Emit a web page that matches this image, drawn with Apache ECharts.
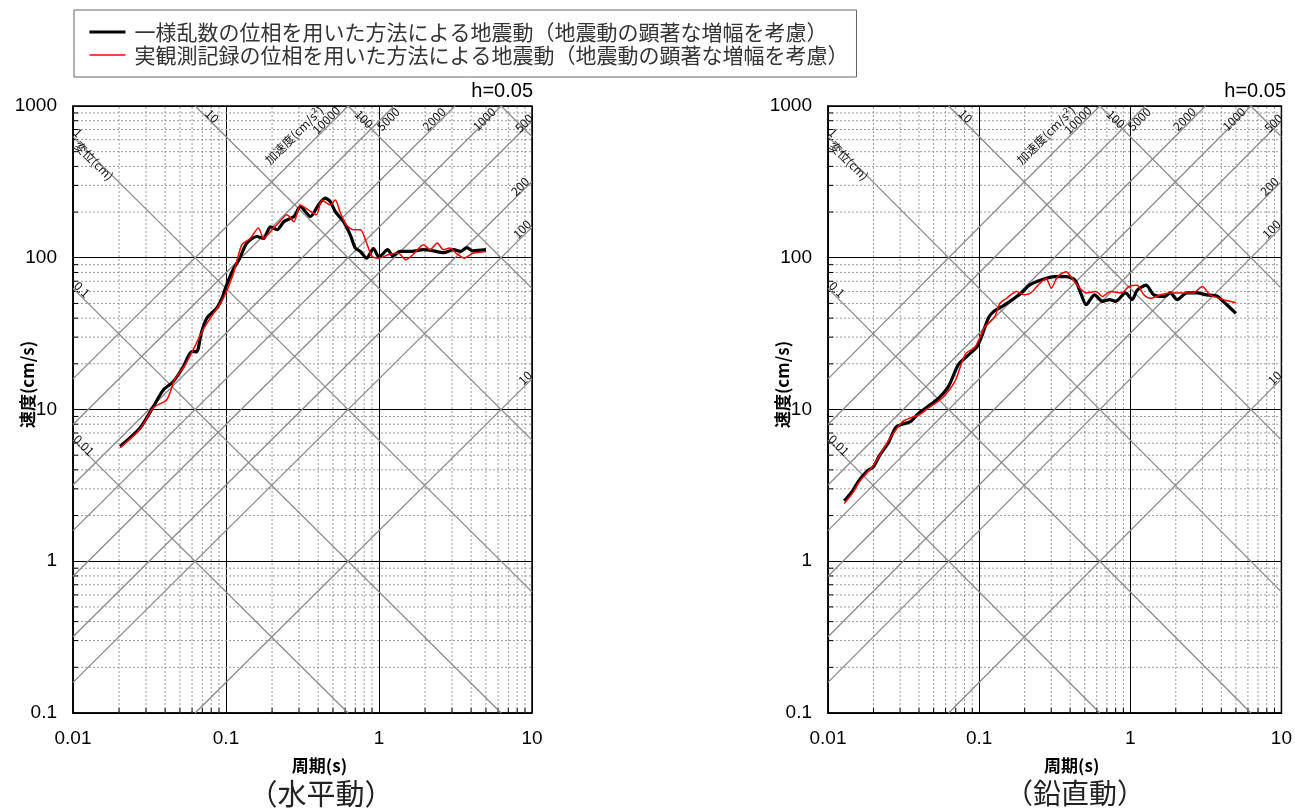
<!DOCTYPE html>
<html><head><meta charset="utf-8">
<script src="https://cdn.jsdelivr.net/npm/echarts@6/dist/echarts.min.js"></script>
<style>html,body{margin:0;padding:0;background:#fff}#c{width:1295px;height:812px}</style>
</head><body><div id="c"></div>
<script>
// ---------------- data ----------------
const seriesNames = [
  '一様乱数の位相を用いた方法による地震動（地震動の顕著な増幅を考慮）',
  '実観測記録の位相を用いた方法による地震動（地震動の顕著な増幅を考慮）'
];
const panelTitles = ['（水平動）', '（鉛直動）'];
const dampingText = 'h=0.05';
const xAxisName = '周期(s)';
const yAxisName = '速度(cm/s)';

// horizontal (left panel)
const hBlackT = [0.0203,0.0274,0.0336,0.039,0.0453,0.0527,0.0597,0.0643,0.069,0.075,0.087,0.094,0.1,0.111,0.123,0.1366,0.159,0.176,0.195,0.216,0.239,0.278,0.306,0.356,0.402,0.444,0.48,0.518,0.586,0.65,0.70,0.756,0.83,0.92,1.0,1.14,1.23,1.37,1.6,1.95,2.27,2.64,3.08,3.4,3.75,4.1,5.0];
const hBlackV = [5.7,7.55,10.5,13.5,15.3,19.2,24.1,24,32,40,46.6,54,64.6,83,99.4,124.8,138,134,160,153,173,187,217,187,223,247,235,201,173,141,116,110,99.3,115,101,113,103,110,110,113,111,108,113,110,116.5,111,113];
const hRedT = [0.0203,0.0274,0.0336,0.041,0.0465,0.053,0.061,0.071,0.083,0.096,0.111,0.127,0.144,0.163,0.176,0.2,0.22,0.25,0.278,0.306,0.346,0.39,0.424,0.48,0.518,0.56,0.61,0.68,0.756,0.83,0.9,1.0,1.16,1.34,1.5,1.67,1.95,2.16,2.4,2.64,2.9,3.2,3.6,4.1,5.0];
const hRedV = [5.6,7.4,10.3,11.6,16,19,24.7,33.7,43,54,77,122,134,157,134,153,169,192,173,223,207,192,240,223,240,197,165,153,153,125,102,99.4,105,107,97,105,122,113,125,113,116,107,99.4,107,110];

// vertical (right panel)
const vBlackT = [0.0128,0.0145,0.016,0.018,0.02,0.022,0.025,0.028,0.031,0.035,0.04,0.046,0.054,0.0627,0.073,0.085,0.0965,0.104,0.115,0.124,0.141,0.16,0.19,0.216,0.258,0.315,0.377,0.43,0.47,0.51,0.58,0.655,0.73,0.80,0.93,1.03,1.11,1.27,1.43,1.67,1.84,2.04,2.37,2.76,3.2,3.72,4.35,5.0];
const vBlackV = [2.5,2.9,3.4,3.9,4.2,5.0,6.0,7.6,8.0,8.3,9.5,10.5,11.9,14.2,19.8,22.9,25.8,30.4,40,44,47.6,51.6,58.6,66.3,71.4,75,75,71.4,58.6,49,57,51.6,53,51.6,58.6,53,61,66,57,55.6,58.6,53,58.6,58.6,57,56,49,43];
const vRedT = [0.0128,0.0145,0.016,0.018,0.02,0.022,0.025,0.028,0.031,0.035,0.04,0.046,0.057,0.0695,0.081,0.094,0.109,0.127,0.137,0.152,0.177,0.2,0.22,0.245,0.277,0.30,0.33,0.377,0.405,0.445,0.51,0.59,0.655,0.74,0.87,0.98,1.11,1.23,1.36,1.59,1.84,2.25,2.6,3.0,3.36,3.9,4.4,5.0];
const vRedV = [2.4,2.8,3.3,3.8,4.3,5.0,6.2,7.3,8.3,8.8,9.2,10.2,11.9,15.5,23.2,25.8,35,40.9,50,54.1,60,57,58.6,66,73,63,75,81,75,66,58.6,60,55.6,60,58.6,64.6,66,57,54,57,58.6,58.6,58.6,64.6,57,54,52,50.5];

// axis ticks / reference lines
const xRange = [0.01, 10];
const yRange = [0.1, 1000];
const xMinor = [0.02,0.03,0.04,0.05,0.06,0.07,0.08,0.09,0.2,0.3,0.4,0.5,0.6,0.7,0.8,0.9,2,3,4,5,6,7,8,9];
const yMinor = [0.2,0.3,0.4,0.5,0.6,0.7,0.8,0.9,2,3,4,5,6,7,8,9,20,30,40,50,60,70,80,90,200,300,400,500,600,700,800,900];
const dispValues = [0.01, 0.1, 1, 10, 100, 1000];          // 変位 (cm)
const accValues = [10, 100, 200, 500, 1000, 2000, 5000, 10000]; // 加速度 (cm/s2)

// ---------------- layout / style ----------------
const TWO_PI = 2 * Math.PI;
const GRIDS = [
  {left: 73, top: 106, width: 459, height: 607},
  {left: 828, top: 106, width: 457, height: 607}
];
const diagLabels = [
  {k:'D', v:10, t:'10', edge:'top', dx:17, dy:10},
  {k:'D', v:100, t:'100', edge:'top', dx:16, dy:13},
  {k:'D', v:1, t:'1', edge:'left', dx:5, dy:-4},
  {k:'D', v:1, t:'変位(cm)', edge:'left', dx:21, dy:24},
  {k:'D', v:0.1, t:'0.1', edge:'left', dx:9, dy:1},
  {k:'D', v:0.01, t:'0.01', edge:'left', dx:11, dy:5},
  {k:'A', v:10000, t:'加速度(cm/s²)', edge:'top', dx:-54, dy:29},
  {k:'A', v:10000, t:'10000', edge:'top', dx:-22, dy:14},
  {k:'A', v:5000, t:'5000', edge:'top', dx:-6, dy:13},
  {k:'A', v:2000, t:'2000', edge:'top', dx:-21, dy:13},
  {k:'A', v:1000, t:'1000', edge:'top', dx:-17, dy:13},
  {k:'A', v:500, t:'500', edge:'right', dx:-8, dy:2},
  {k:'A', v:200, t:'200', edge:'right', dx:-12, dy:5},
  {k:'A', v:100, t:'100', edge:'right', dx:-10, dy:2},
  {k:'A', v:10, t:'10', edge:'right', dx:-7, dy:-1}
];

const L10 = Math.log10;
function lineCoef(k, v) {
  return k === 'D' ? {s: -1, c: L10(TWO_PI * v)} : {s: 1, c: L10(v / TWO_PI)};
}
function diagSegment(k, v) {
  const {s, c} = lineCoef(k, v);
  const ta = (L10(yRange[0]) - c) / s, tb = (L10(yRange[1]) - c) / s;
  const lo = Math.max(L10(xRange[0]), Math.min(ta, tb));
  const hi = Math.min(L10(xRange[1]), Math.max(ta, tb));
  if (lo >= hi) return null;
  return [[Math.pow(10, lo), Math.pow(10, c + s * lo)], [Math.pow(10, hi), Math.pow(10, c + s * hi)]];
}
function labelAnchor(lb) {
  const {s, c} = lineCoef(lb.k, lb.v);
  if (lb.edge === 'top') { const lt = (L10(yRange[1]) - c) / s; return [Math.pow(10, lt), yRange[1]]; }
  if (lb.edge === 'left') { const lt = L10(xRange[0]); return [xRange[0], Math.pow(10, c + s * lt)]; }
  const lt = L10(xRange[1]); return [xRange[1], Math.pow(10, c + s * lt)];
}
const fmt = v => String(Number(Number(v).toPrecision(6)));
const NUM_FONT = 'Liberation Sans, Arial, sans-serif';
const JP_FONT = 'Noto Sans CJK JP, sans-serif';

const allDiag = [];
dispValues.forEach(v => allDiag.push({k:'D', v}));
accValues.forEach(v => allDiag.push({k:'A', v}));

function panelSeries(gi, bT, bV, rT, rV) {
  const out = [];
  out.push({
    type: 'custom', xAxisIndex: gi, yAxisIndex: gi, silent: true, z: 1,
    data: xMinor.map(v => [v, 1]),
    renderItem(params, api) {
      const v = xMinor[params.dataIndex];
      const b = api.coord([v, yRange[0]]), t = api.coord([v, yRange[1]]);
      return {type: 'group', children: [
        {type: 'line', shape: {x1: b[0], y1: b[1], x2: t[0], y2: t[1]}, style: {stroke: '#9a9a9a', lineWidth: 1, lineDash: [2, 2]}},
        {type: 'line', shape: {x1: b[0], y1: b[1], x2: b[0], y2: b[1] - 5}, style: {stroke: '#000', lineWidth: 1}}
      ]};
    }
  });
  out.push({
    type: 'custom', xAxisIndex: gi, yAxisIndex: gi, silent: true, z: 1,
    data: yMinor.map(v => [1, v]),
    renderItem(params, api) {
      const v = yMinor[params.dataIndex];
      const l = api.coord([xRange[0], v]), r = api.coord([xRange[1], v]);
      return {type: 'group', children: [
        {type: 'line', shape: {x1: l[0], y1: l[1], x2: r[0], y2: r[1]}, style: {stroke: '#9a9a9a', lineWidth: 1, lineDash: [2, 2]}},
        {type: 'line', shape: {x1: l[0], y1: l[1], x2: l[0] + 5, y2: l[1]}, style: {stroke: '#000', lineWidth: 1}}
      ]};
    }
  });
  out.push({
    type: 'custom', xAxisIndex: gi, yAxisIndex: gi, silent: true, z: 2,
    data: allDiag.map(() => [1, 1]),
    renderItem(params, api) {
      const d = allDiag[params.dataIndex];
      const seg = diagSegment(d.k, d.v);
      if (!seg) return null;
      const p = api.coord(seg[0]), q = api.coord(seg[1]);
      return {type: 'line', shape: {x1: p[0], y1: p[1], x2: q[0], y2: q[1]}, style: {stroke: '#8a8a8a', lineWidth: 1.3}};
    }
  });
  out.push({
    type: 'custom', xAxisIndex: gi, yAxisIndex: gi, silent: true, z: 3,
    data: diagLabels.map(() => [1, 1]),
    renderItem(params, api) {
      const lb = diagLabels[params.dataIndex];
      const a = api.coord(labelAnchor(lb));
      return {type: 'text', x: a[0] + lb.dx, y: a[1] + lb.dy,
        rotation: lb.k === 'A' ? Math.PI / 4 : -Math.PI / 4,
        style: {text: lb.t, fill: '#111', fontSize: 12, fontFamily: JP_FONT, align: 'center', verticalAlign: 'middle'}};
    }
  });
  out.push({
    name: seriesNames[0], type: 'line', xAxisIndex: gi, yAxisIndex: gi, z: 10,
    showSymbol: false, symbol: 'none', smooth: 0.25,
    data: bT.map((t, i) => [t, bV[i]]),
    lineStyle: {color: '#000', width: 3.2}, itemStyle: {color: '#000'}
  });
  out.push({
    name: seriesNames[1], type: 'line', xAxisIndex: gi, yAxisIndex: gi, z: 11,
    showSymbol: false, symbol: 'none', smooth: 0.25,
    data: rT.map((t, i) => [t, rV[i]]),
    lineStyle: {color: '#ff0000', width: 1.5}, itemStyle: {color: '#ff0000'}
  });
  return out;
}

function xAxisCfg(gi) {
  return {
    type: 'log', logBase: 10, gridIndex: gi, min: xRange[0], max: xRange[1],
    name: xAxisName, nameLocation: 'middle', nameGap: 44, nameMoveOverlap: false,
    nameTextStyle: {fontSize: 17, fontWeight: 'bold', color: '#000', fontFamily: JP_FONT, padding: [0, 0, 0, 34]},
    axisLine: {show: true, onZero: false, lineStyle: {color: '#000', width: 1.5}},
    axisTick: {show: false},
    axisLabel: {margin: 16, fontSize: 19, color: '#000', fontFamily: NUM_FONT, formatter: fmt, showMinLabel: true, showMaxLabel: true},
    splitLine: {show: true, lineStyle: {color: '#000', width: 1}}
  };
}
function yAxisCfg(gi) {
  return {
    type: 'log', logBase: 10, gridIndex: gi, min: yRange[0], max: yRange[1],
    name: yAxisName, nameLocation: 'middle', nameGap: 37, nameMoveOverlap: false,
    nameTextStyle: {fontSize: 17, fontWeight: 'bold', color: '#000', fontFamily: JP_FONT, padding: [0, 0, 0, 50]},
    axisLine: {show: true, onZero: false, lineStyle: {color: '#000', width: 1.5}},
    axisTick: {show: false},
    axisLabel: {margin: 16, fontSize: 19, color: '#000', fontFamily: NUM_FONT, formatter: fmt, showMinLabel: true, showMaxLabel: true},
    splitLine: {show: true, lineStyle: {color: '#000', width: 1}}
  };
}

const chart = echarts.init(document.getElementById('c'), null, {renderer: 'canvas'});
chart.setOption({
  animation: false,
  backgroundColor: '#fff',
  title: [
    {text: dampingText, right: 1295 - 533, top: 81, padding: 0, textStyle: {fontSize: 20, fontWeight: 'normal', color: '#000', fontFamily: NUM_FONT}},
    {text: dampingText, right: 1295 - 1286, top: 81, padding: 0, textStyle: {fontSize: 20, fontWeight: 'normal', color: '#000', fontFamily: NUM_FONT}},
    {text: panelTitles[0], left: 321, textAlign: 'center', top: 779, padding: 0, textStyle: {fontSize: 29, fontWeight: 'normal', color: '#222', fontFamily: JP_FONT}},
    {text: panelTitles[1], left: 1075, textAlign: 'center', top: 779, padding: 0, textStyle: {fontSize: 28, fontWeight: 'normal', color: '#222', fontFamily: JP_FONT}}
  ],
  legend: {
    left: 74, top: 10, orient: 'vertical', padding: [11, 8, 11, 14], itemGap: 1,
    itemWidth: 36, itemHeight: 14, borderColor: '#666', borderWidth: 1,
    itemStyle: {opacity: 0},
    textStyle: {fontSize: 21, lineHeight: 22, color: '#333', fontFamily: JP_FONT, padding: [0, 0, 0, 4]},
    data: [
      {name: seriesNames[0], lineStyle: {width: 3, color: '#000'}},
      {name: seriesNames[1], lineStyle: {width: 1.5, color: '#ff0000'}}
    ]
  },
  grid: GRIDS.map(g => Object.assign({show: true, borderColor: '#000', borderWidth: 1.5, backgroundColor: 'transparent', containLabel: false}, g)),
  xAxis: [xAxisCfg(0), xAxisCfg(1)],
  yAxis: [yAxisCfg(0), yAxisCfg(1)],
  series: [].concat(
    panelSeries(0, hBlackT, hBlackV, hRedT, hRedV),
    panelSeries(1, vBlackT, vBlackV, vRedT, vRedV)
  )
});
</script></body></html>
